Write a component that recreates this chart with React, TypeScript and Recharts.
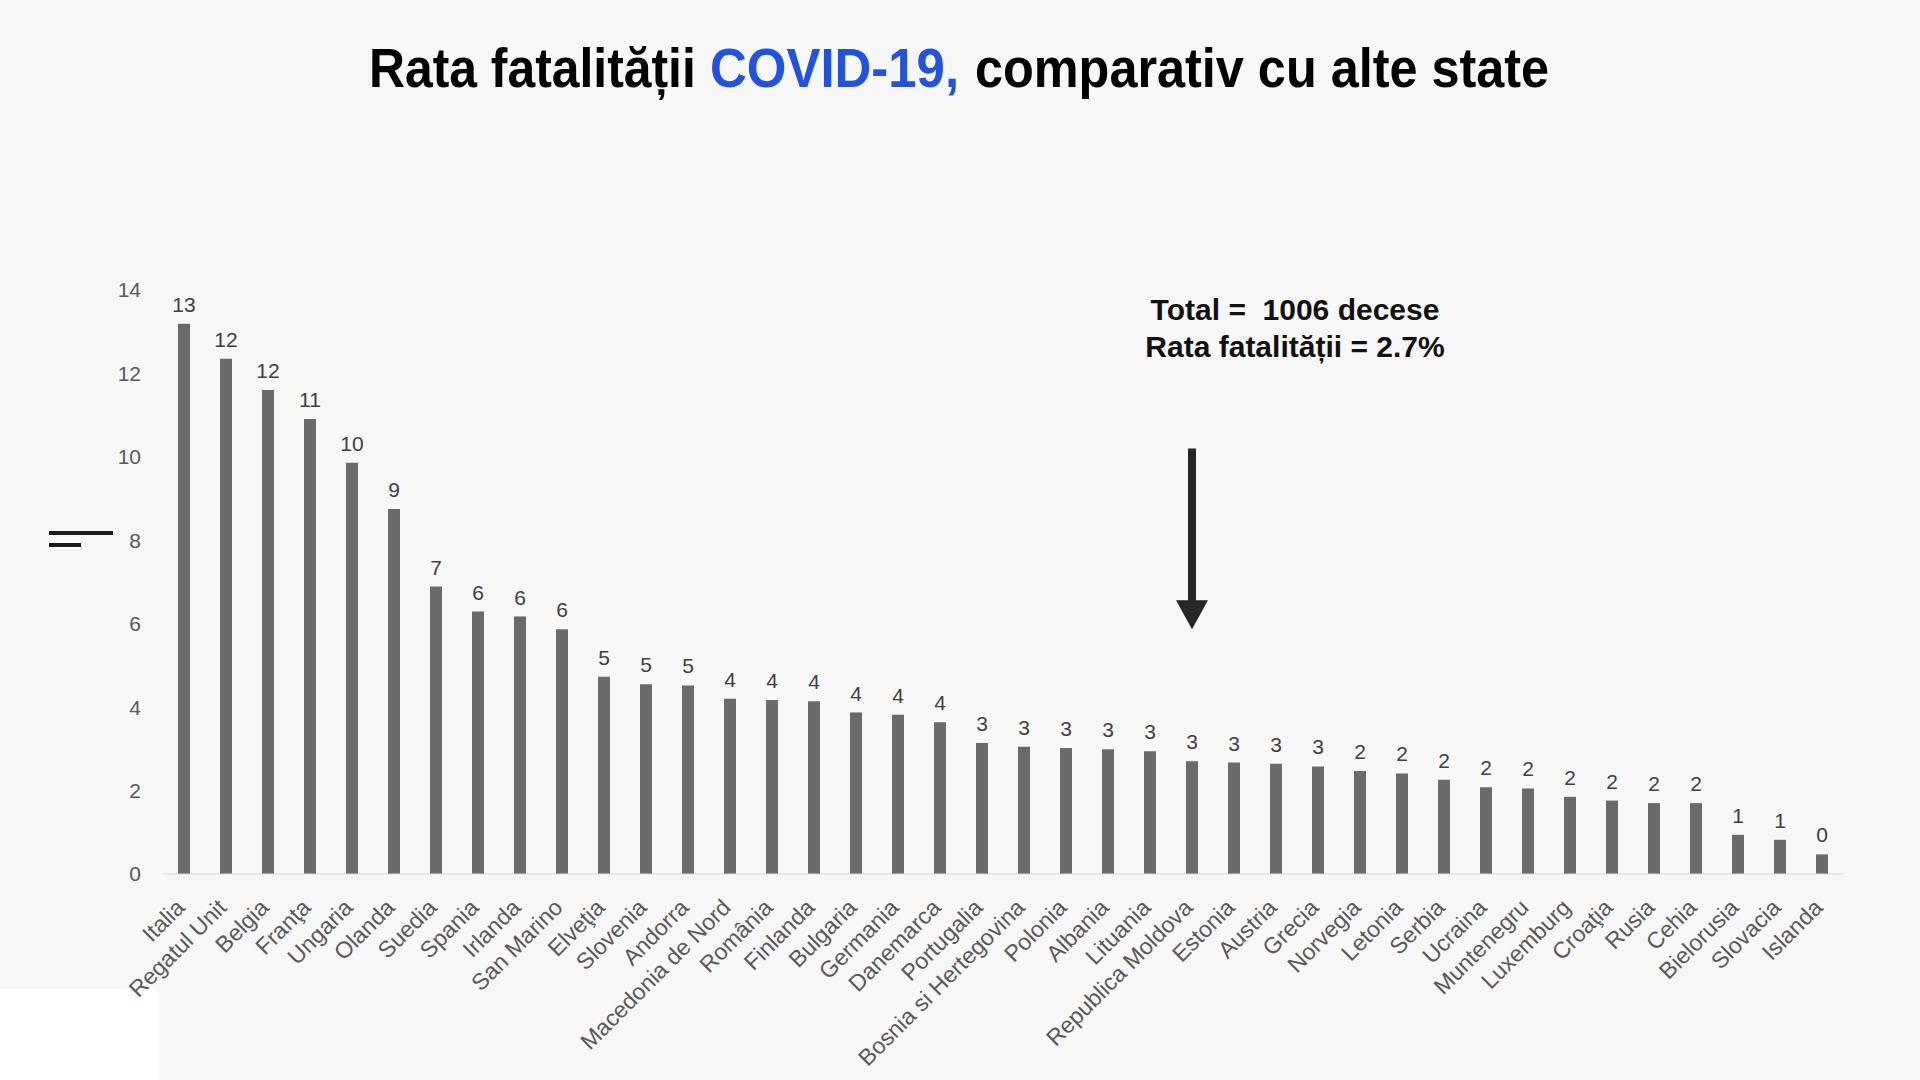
import React from 'react';
import { BarChart, Bar, XAxis, YAxis, LabelList, ReferenceLine } from 'recharts';

const countries = [
  'Italia', 'Regatul Unit', 'Belgia', 'Franţa', 'Ungaria', 'Olanda', 'Suedia', 'Spania', 'Irlanda', 'San Marino',
  'Elveţia', 'Slovenia', 'Andorra', 'Macedonia de Nord', 'România', 'Finlanda', 'Bulgaria', 'Germania', 'Danemarca', 'Portugalia',
  'Bosnia si Hertegovina', 'Polonia', 'Albania', 'Lituania', 'Republica Moldova', 'Estonia', 'Austria', 'Grecia', 'Norvegia', 'Letonia',
  'Serbia', 'Ucraina', 'Muntenegru', 'Luxemburg', 'Croaţia', 'Rusia', 'Cehia', 'Bielorusia', 'Slovacia', 'Islanda',
];

const fatalityRates = [
  13.19, 12.35, 11.6, 10.91, 9.86, 8.75, 6.89, 6.29, 6.17, 5.87,
  4.73, 4.55, 4.52, 4.2, 4.17, 4.14, 3.87, 3.82, 3.64, 3.14,
  3.05, 3.02, 2.99, 2.94, 2.7, 2.67, 2.64, 2.58, 2.47, 2.41,
  2.26, 2.08, 2.05, 1.85, 1.76, 1.7, 1.7, 0.94, 0.82, 0.47,
];

const yTicks = [0, 2, 4, 6, 8, 10, 12, 14];

const highlighted = 'Republica Moldova';

const data = countries.map((name, i) => ({ name, rate: fatalityRates[i] }));

const FONT = '"Liberation Sans", Arial, sans-serif';

// title pieces: text, colour, left x, horizontal squeeze
const titleParts: [string, string, number, number][] = [
  ['Rata fatalității', '#000000', 369, 0.89],
  ['COVID-19,', '#2152e0', 710, 0.91],
  ['comparativ cu alte state', '#000000', 975, 0.9],
];

function CountryTick({ x, y, payload }: any) {
  const ax = x + 2;
  const ay = y + 27;
  return (
    <text
      x={ax}
      y={ay}
      transform={`rotate(-45 ${ax} ${ay})`}
      textAnchor="end"
      fill="#595959"
      fontSize={23}
      fontFamily={FONT}
    >
      {payload.value}
    </text>
  );
}

function ArrowShape(props: any) {
  const { x1, y1, y2 } = props;
  const head = 29;
  return (
    <g>
      <line x1={x1} y1={y1} x2={x1} y2={y2 - head + 1} stroke="#262626" strokeWidth={8} />
      <polygon points={`${x1 - 16},${y2 - head} ${x1 + 16},${y2 - head} ${x1},${y2}`} fill="#262626" />
    </g>
  );
}

export default function App() {
  return (
    <div style={{ position: 'fixed', left: 0, top: 0, width: 1920, height: 1080, background: '#f7f7f7', overflow: 'hidden' }}>
      <div style={{ position: 'absolute', left: 0, top: 989, width: 159, height: 91, background: '#ffffff' }} />
      <div style={{ position: 'absolute', left: 0, top: 0 }}>
        <BarChart width={1920} height={1080} data={data} margin={{ top: 290, right: 77, bottom: 6, left: 103 }}>
          <XAxis
            dataKey="name"
            interval={0}
            height={200}
            axisLine={{ stroke: '#d9d9d9', strokeWidth: 1 }}
            tickLine={false}
            tick={<CountryTick />}
          />
          <YAxis
            width={60}
            domain={[0, 14]}
            ticks={yTicks}
            axisLine={false}
            tickLine={false}
            tickMargin={16}
            tick={{ fill: '#595959', fontSize: 21, fontFamily: FONT }}
          />
          <Bar dataKey="rate" fill="#6a6a6a" barSize={12} isAnimationActive={false}>
            <LabelList
              dataKey="rate"
              position="top"
              offset={12}
              formatter={(v: any) => Math.round(Number(v))}
              fill="#404040"
              fontSize={21}
              fontFamily={FONT}
            />
          </Bar>
          <ReferenceLine
            segment={[{ x: highlighted, y: 10.2 }, { x: highlighted, y: 5.87 }]}
            shape={<ArrowShape />}
          />
        </BarChart>
      </div>
      <svg width={1920} height={1080} style={{ position: 'absolute', left: 0, top: 0, pointerEvents: 'none' }}>
        {titleParts.map(([txt, color, x, sx]) => (
          <g key={txt} transform={`translate(${x} 87) scale(${sx} 1)`}>
            <text x={0} y={0} fontFamily={FONT} fontWeight="bold" fontSize={56} fill={color}>
              {txt}
            </text>
          </g>
        ))}
        <text x={1295} y={320} textAnchor="middle" fontFamily={FONT} fontWeight="bold" fontSize={30} fill="#111111" style={{ whiteSpace: 'pre' }}>
          {'Total =  1006 decese'}
        </text>
        <text x={1295} y={357} textAnchor="middle" fontFamily={FONT} fontWeight="bold" fontSize={30} fill="#111111">
          Rata fatalității = 2.7%
        </text>
        <line x1={49} y1={533} x2={113} y2={533} stroke="#1a1a1a" strokeWidth={4} />
        <line x1={49} y1={545} x2={81} y2={545} stroke="#1a1a1a" strokeWidth={4} />
      </svg>
    </div>
  );
}
